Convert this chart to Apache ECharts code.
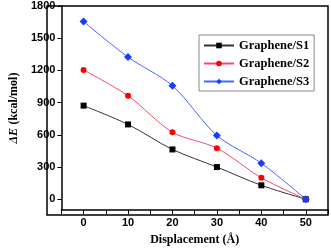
<!DOCTYPE html>
<html><head><meta charset="utf-8">
<script src="https://cdn.jsdelivr.net/npm/echarts@6/dist/echarts.min.js"></script>
<style>html,body{margin:0;padding:0;background:#fff}#c{width:331px;height:251px}</style>
</head><body><div id="c"></div>
<script>
const displacement = [0, 10, 20, 30, 40, 50];
const s1 = [872, 697, 464, 300, 130, 0];
const s2 = [1204, 964, 624, 476, 200, 0];
const s3 = [1655, 1324, 1057, 594, 336, 0];
const seriesNames = ['Graphene/S1', 'Graphene/S2', 'Graphene/S3'];
const yTicks = [0, 300, 600, 900, 1200, 1500, 1800];

const chart = echarts.init(document.getElementById('c'));
const pairs = a => displacement.map((x, i) => [x, a[i]]);
const mk = (name, data, sym, lineColor, markColor, size) => ({
  name, type: 'line', data: pairs(data), smooth: 0.3,
  symbol: sym, symbolSize: size, showSymbol: true,
  lineStyle: { color: lineColor, width: 1 },
  itemStyle: { color: markColor },
  z: 3
});
chart.setOption({
  animation: false,
  grid: { left: 47, top: 6, right: 3, bottom: 36 },
  legend: {
    orient: 'vertical', left: 199, top: 35,
    itemWidth: 30, itemHeight: 7, itemGap: 5,
    padding: [4, 5, 3, 4],
    borderColor: '#888', borderWidth: 1,
    textStyle: { fontFamily: 'Liberation Serif', fontWeight: 'bold', fontSize: 12.5, color: '#000' },
    data: seriesNames.map(n => ({ name: n }))
  },
  xAxis: {
    type: 'value', min: -5, max: 55, interval: 5,
    name: 'Displacement (Å)', nameLocation: 'middle', nameGap: 24,
    nameTextStyle: { fontFamily: 'Liberation Serif', fontWeight: 'bold', fontSize: 12, color: '#000' },
    axisLine: { onZero: false, lineStyle: { color: '#000', width: 1.5 } },
    axisTick: { show: true, length: 4, inside: false, lineStyle: { color: '#000' } },
    axisLabel: {
      fontFamily: 'Liberation Sans', fontWeight: 'bold', fontSize: 11, color: '#000', margin: 7,
      formatter: v => (v % 10 === 0 && v >= 0 && v <= 50) ? String(v) : ''
    },
    splitLine: { show: false }
  },
  yAxis: {
    type: 'value', min: -100, max: 1800,
    name: '{i|ΔE} {n|(kcal/mol)}', nameLocation: 'middle', nameGap: 38,
    nameTextStyle: {
      rich: {
        i: { fontFamily: 'Liberation Serif', fontStyle: 'italic', fontWeight: 'bold', fontSize: 12, color: '#000' },
        n: { fontFamily: 'Liberation Serif', fontWeight: 'bold', fontSize: 12, color: '#000' }
      }
    },
    axisLine: { show: true, onZero: false, lineStyle: { color: '#000', width: 1.5 } },
    axisTick: { show: true, length: 4, customValues: yTicks, lineStyle: { color: '#000' } },
    axisLabel: { fontFamily: 'Liberation Sans', fontWeight: 'bold', fontSize: 11, color: '#000', margin: 6, customValues: yTicks, formatter: v => String(v) },
    splitLine: { show: false }
  },
  graphic: [{
    type: 'rect', shape: { x: 47, y: 6, width: 281, height: 209 },
    style: { fill: 'none', stroke: '#000', lineWidth: 1.5 }, silent: true, z: 10
  }],
  series: [
    mk(seriesNames[0], s1, 'rect', '#333333', '#000000', 6),
    mk(seriesNames[1], s2, 'circle', '#ff4466', '#ff0000', 6),
    mk(seriesNames[2], s3, 'diamond', '#4466ff', '#1a3cff', 8)
  ]
});
</script></body></html>
